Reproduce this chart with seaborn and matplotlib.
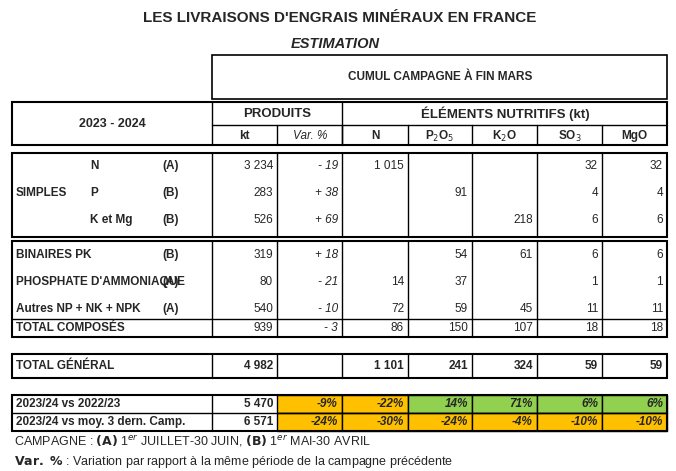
import matplotlib
matplotlib.use("Agg")
import matplotlib.pyplot as plt
import seaborn as sns

sns.set_theme(style="white")
plt.rcParams["font.family"] = ["Liberation Sans Narrow", "Liberation Sans", "DejaVu Sans"]
plt.rcParams["mathtext.fontset"] = "custom"
plt.rcParams["mathtext.rm"] = "Liberation Sans Narrow"
plt.rcParams["mathtext.it"] = "Liberation Sans Narrow:italic"
plt.rcParams["mathtext.bf"] = "Liberation Sans Narrow:bold"

# ---- données ----
rows_simple = ["N", "P", "K et Mg"]
camp_simple = ["(A)", "(B)", "(B)"]
rows_comp = ["BINAIRES PK", "PHOSPHATE D'AMMONIAQUE", "Autres NP + NK + NPK"]
camp_comp = ["(B)", "(A)", "(A)"]
kt_simple = ["3 234", "283", "526"]
var_simple = ["- 19", "+ 38", "+ 69"]
kt_comp = ["319", "80", "540"]
var_comp = ["+ 18", "- 21", "- 10"]
nutr_simple = [["1 015", "", "", "32", "32"],
               ["", "91", "", "4", "4"],
               ["", "", "218", "6", "6"]]
nutr_comp = [["", "54", "61", "6", "6"],
             ["14", "37", "", "1", "1"],
             ["72", "59", "45", "11", "11"]]
total_comp = ["939", "- 3", "86", "150", "107", "18", "18"]
total_gen = ["4 982", "", "1 101", "241", "324", "59", "59"]
cmp_labels = ["2023/24 vs 2022/23", "2023/24 vs moy. 3 dern. Camp."]
cmp_kt = ["5 470", "6 571"]
cmp_pct = [[-9, -22, 14, 71, 6, 6], [-24, -30, -24, -4, -10, -10]]
nutr_heads = ["N", "P$_2$O$_5$", "K$_2$O", "SO$_3$", "MgO"]

W, H = 676, 471
fig = plt.figure(figsize=(W / 100, H / 100), dpi=100)
ax = fig.add_axes([0, 0, 1, 1])
ax.set_xlim(0, W)
ax.set_ylim(H, 0)
ax.axis("off")

cols = [12, 212, 277, 342, 408, 472, 537, 602, 667]
lw = 1.0

def box(x0, y0, x1, y1, fc="none", lw=1.2):
    ax.add_patch(plt.Rectangle((x0, y0), x1 - x0, y1 - y0, fc=fc, ec="black", lw=lw))

def vlines(y0, y1, xs):
    for x in xs:
        ax.plot([x, x], [y0, y1], color="black", lw=lw)

def txt(x, y, s, ha="center", bold=True, italic=False, size=8.5):
    return ax.text(x, y, s, ha=ha, va="center", fontsize=size,
                   fontweight="bold" if bold else "normal",
                   fontstyle="italic" if italic else "normal")

# ci : 0 = kt, 1 = Var. %, 2.. = éléments nutritifs
def right(ci, y, s, italic=False, bold=False):
    txt(cols[ci + 2] - 4, y, s, ha="right", italic=italic, bold=bold)

# titres
txt(340, 18, "LES LIVRAISONS D'ENGRAIS MINÉRAUX EN FRANCE", size=11)
txt(335, 44, "ESTIMATION", italic=True, size=10.5)
box(212, 55, 667, 99)
txt(440, 77, "CUMUL CAMPAGNE À FIN MARS", size=8.5)

# en-tête
box(12, 102, 667, 145, lw=1.5)
vlines(102, 145, [212, 342])
vlines(125, 145, cols[2:-1])
ax.plot([212, 667], [125, 125], color="black", lw=lw)
txt(112, 124, "2023 - 2024", size=9)
txt(277, 114, "PRODUITS", size=9.5)
txt(505, 114, "ÉLÉMENTS NUTRITIFS (kt)", size=9.5)
txt(244, 136, "kt")
txt(310, 136, "Var. %", italic=True, bold=False)
for i, h in enumerate(nutr_heads):
    txt((cols[i + 3] + cols[i + 4]) / 2, 136, h)

# bloc simples
box(12, 153, 667, 237, lw=1.5)
vlines(153, 237, cols[1:-1])
ys = [166, 193, 220]
txt(16, 193, "SIMPLES", ha="left")
for i, y in enumerate(ys):
    txt(90, y, rows_simple[i], ha="left")
    txt(162, y, camp_simple[i], ha="left")
    right(0, y, kt_simple[i])
    right(1, y, var_simple[i], italic=True)
    for j, v in enumerate(nutr_simple[i]):
        right(j + 2, y, v)

# bloc composés
box(12, 241, 667, 337, lw=1.5)
vlines(241, 337, cols[1:-1])
ax.plot([12, 667], [319, 319], color="black", lw=lw)
ys = [255, 282, 309]
for i, y in enumerate(ys):
    t = txt(16, y, rows_comp[i], ha="left")
    t.set_clip_path(plt.Rectangle((12, 0), 150, H, transform=ax.transData))
    txt(162, y, camp_comp[i], ha="left")
    right(0, y, kt_comp[i])
    right(1, y, var_comp[i], italic=True)
    for j, v in enumerate(nutr_comp[i]):
        right(j + 2, y, v)
txt(16, 328, "TOTAL COMPOSÉS", ha="left")
for j, v in enumerate(total_comp):
    right(j, 328, v, italic=(j == 1))

# total général
box(12, 354, 667, 378, lw=1.5)
vlines(354, 378, cols[1:-1])
txt(16, 366, "TOTAL GÉNÉRAL", ha="left")
for j, v in enumerate(total_gen):
    right(j, 366, v, bold=True)

# comparaisons
for r, y0 in enumerate([395, 413]):
    for j, p in enumerate(cmp_pct[r]):
        c = "#92D050" if p > 0 else "#FFC000"
        ax.add_patch(plt.Rectangle((cols[j + 2], y0), cols[j + 3] - cols[j + 2], 18,
                                   fc=c, ec="black", lw=lw))
        right(j + 1, y0 + 9, f"{p}%", italic=True, bold=True)
    txt(16, y0 + 9, cmp_labels[r], ha="left")
    right(0, y0 + 9, cmp_kt[r], bold=True)
box(12, 395, 667, 431, lw=1.5)
vlines(395, 431, [212])
ax.plot([12, 667], [413, 413], color="black", lw=lw)

# notes
ax.text(14, 441, "CAMPAGNE : $\\mathbf{(A)}$ 1$^{er}$ JUILLET-30 JUIN, $\\mathbf{(B)}$ 1$^{er}$ MAI-30 AVRIL",
        ha="left", va="center", fontsize=9)
ax.text(14, 462, "$\\mathbf{Var.\\ \\%}$ : Variation par rapport à la même période de la campagne précédente",
        ha="left", va="center", fontsize=9)

fig.savefig("out.png", dpi=100)
